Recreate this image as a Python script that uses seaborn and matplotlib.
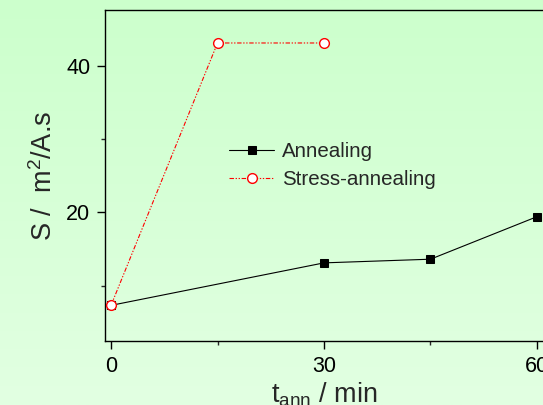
import numpy as np
import pandas as pd
import matplotlib
matplotlib.use("Agg")
import matplotlib.pyplot as plt
import seaborn as sns

# Annealing time (min) and sensitivity S (m^2/A.s)
anneal_t = [0, 30, 45, 60]
anneal_s = [7.3, 13.1, 13.6, 19.4]
stress_t = [0, 15, 30]
stress_s = [7.3, 43.1, 43.1]

x_major = [0, 30, 60]
x_minor = [15, 45]
y_major = [20, 40]
y_minor = [10, 30]

sns.set_style("ticks")
plt.rcParams["font.family"] = ["Liberation Sans", "DejaVu Sans"]
plt.rcParams["mathtext.fontset"] = "custom"
plt.rcParams["mathtext.rm"] = "Liberation Sans"
plt.rcParams["mathtext.it"] = "Liberation Sans"

W, H = 543, 405
fig = plt.figure(figsize=(W / 100, H / 100), dpi=100)

# soft green vertical gradient behind everything
bg = fig.add_axes([0, 0, 1, 1], zorder=-10)
grad = np.linspace(0, 1, 256).reshape(-1, 1)
top = np.array([204, 255, 204]) / 255
bot = np.array([226, 255, 226]) / 255
img = top[None, None, :] * (1 - grad[:, :, None]) + bot[None, None, :] * grad[:, :, None]
bg.imshow(img, aspect="auto", extent=[0, 1, 0, 1])
bg.axis("off")

ax = fig.add_axes([105 / W, 1 - 341 / H, 1 - 105 / W, (341 - 10) / H])
ax.patch.set_alpha(0)

df_a = pd.DataFrame({"t": anneal_t, "S": anneal_s})
df_s = pd.DataFrame({"t": stress_t, "S": stress_s})

sns.lineplot(data=df_a, x="t", y="S", ax=ax, color="black", lw=0.8,
             marker="s", markersize=5.5, markeredgecolor="black",
             markerfacecolor="black", label="Annealing", zorder=3)
sns.lineplot(data=df_s, x="t", y="S", ax=ax, color="#ff0000", lw=0.8,
             linestyle=(0, (4, 1.5, 1.2, 1.5, 1.2, 1.5)),
             marker="o", markersize=7, markeredgecolor="#ff0000",
             markerfacecolor="white", markeredgewidth=1.0,
             label="Stress-annealing", zorder=4)

ax.set_xlim(-0.85, 60.85)
ax.set_ylim(2.44, 47.6)
ax.set_xticks(x_major)
ax.set_xticks(x_minor, minor=True)
ax.set_yticks(y_major)
ax.set_yticks(y_minor, minor=True)

for s in ["left", "bottom", "top"]:
    ax.spines[s].set_linewidth(1.0)
    ax.spines[s].set_color("black")
ax.spines["right"].set_visible(False)

ax.tick_params(which="major", direction="out", length=5.5, width=1.0,
               labelsize=15.5, pad=5, colors="black")
ax.tick_params(which="minor", direction="out", length=3, width=1.0)
ax.tick_params(top=False, right=False)

ax.set_xlabel(r"t$_{\mathrm{ann}}$ / min", fontsize=19.5, labelpad=3)
ax.set_ylabel(r"S /  m$^{2}$/A.s", fontsize=19.5, labelpad=6)

leg = ax.legend(loc="upper left", bbox_to_anchor=(229 / W, 1 - 142 / H),
                bbox_transform=fig.transFigure, frameon=False, fontsize=14.8,
                handlelength=2.2, handletextpad=0.4, labelspacing=0.45,
                borderpad=0, borderaxespad=0, numpoints=1)

fig.savefig("out.png", dpi=100)
